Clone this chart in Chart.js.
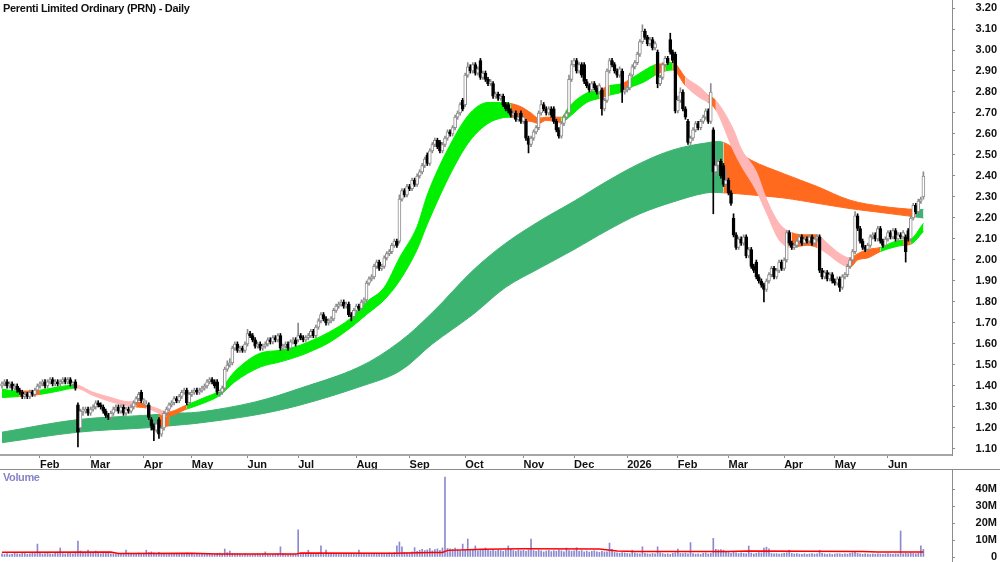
<!DOCTYPE html>
<html lang="en">
<head>
<meta charset="utf-8">
<title>Perenti Limited Ordinary (PRN) - Daily</title>
<script src="https://cdn.jsdelivr.net/npm/chart.js@4.4.1/dist/chart.umd.min.js"></script>
<style>
  html, body { margin: 0; padding: 0; background: #fff; }
  body { position: relative; width: 1000px; height: 562px; overflow: hidden;
         font-family: Arial, 'Liberation Sans', sans-serif; }
  #priceChart { position: absolute; left: 0; top: 0; }
  #volumeChart { position: absolute; left: 0; top: 470px; }
  .divider { position: absolute; left: 0; top: 469px; width: 1000px; height: 1px; background: #8c8c8c; }
  .title { position: absolute; left: 3px; top: 2px; font-size: 11px; font-weight: bold;
           letter-spacing: -0.3px; color: #111; }
  .vol-label { position: absolute; left: 3px; top: 471px; font-size: 11px; font-weight: bold;
               letter-spacing: -0.4px; color: #8585c6; }
</style>
</head>
<body>
<canvas id="priceChart" width="1000" height="469"></canvas>
<div class="divider"></div>
<canvas id="volumeChart" width="1000" height="92"></canvas>
<div class="title">Perenti Limited Ordinary (PRN) - Daily</div>
<div class="vol-label">Volume</div>

<script>
// ============================================================
// PRN daily chart — candles, MMA ribbons, volume
// ============================================================

// ── Calendar ──────────────────────────────────────────────
const FIRST_DAY = '2025-01-10';
const LAST_DAY  = '2026-06-22';
const MARKET_HOLIDAYS = [
  '2025-01-27', '2025-04-18', '2025-04-21', '2025-04-25', '2025-06-09',
  '2025-12-25', '2025-12-26', '2026-01-01', '2026-01-26', '2026-04-03',
  '2026-04-06', '2026-06-08'
];
const MONTH_NAMES = ['Jan', 'Feb', 'Mar', 'Apr', 'May', 'Jun',
                     'Jul', 'Aug', 'Sep', 'Oct', 'Nov', 'Dec'];

// ── Daily prices, in cents (one entry per trading day) ────
const OPEN = [
  140,141,142,140,141,139,140,138,137,135,136,135,137,136,138,
  140,141,142,140,142,143,141,142,141,142,143,142,143,141,142,
  131,120,128,128,129,127,129,130,132,131,130,128,126,125,127,
  129,130,128,130,127,129,128,130,132,134,137,133,131,131,124,
  121,119,124,117,120,127,129,131,132,134,133,135,137,138,132,
  136,137,138,137,138,139,140,142,143,142,142,137,137,139,148,
  150,151,158,160,157,158,157,160,165,164,162,159,160,158,159,
  160,162,161,163,162,164,158,159,160,158,161,162,162,164,163,
  162,163,164,166,164,168,171,174,172,170,171,172,176,178,179,
  180,178,179,174,173,176,178,177,180,181,189,191,192,197,199,
  196,197,201,203,204,207,209,209,229,233,231,235,234,238,236,
  240,242,245,250,246,252,255,257,256,252,255,258,261,260,263,
  268,270,276,274,288,292,290,293,289,295,287,289,286,284,284,
  278,279,277,278,274,274,271,269,270,267,270,266,266,258,255,
  258,261,263,270,274,272,270,272,272,266,262,259,265,268,270,
  286,293,295,290,293,293,285,283,281,284,282,280,281,272,276,
  290,295,293,290,288,290,280,281,282,288,292,294,298,304,309,
  306,303,305,301,299,284,287,293,296,305,299,298,271,276,280,
  272,266,256,258,262,265,263,266,268,271,266,262,242,245,247,
  245,236,238,232,220,212,206,210,208,211,202,205,197,199,192,
  190,188,186,190,193,196,192,195,199,196,200,213,208,206,207,
  209,211,208,210,209,211,208,210,211,195,192,194,191,193,190,
  189,191,187,192,193,197,200,204,221,215,209,206,205,207,211,
  212,210,215,209,207,210,213,211,214,210,212,211,211,214,210,
  220,226,223,228,230
];
const HIGH = [
  142,143,143,142,142,141,141,139,138,137,137,138,138,139,141,
  142,143,143,143,144,144,143,143,143,144,144,144,144,142,143,
  132,129,130,130,130,130,131,133,133,132,131,129,127,128,130,
  131,131,131,131,130,130,131,133,135,137,138,134,133,132,125,
  122,123,125,121,128,130,132,133,135,135,136,138,139,139,137,
  138,139,139,139,140,141,143,144,144,143,143,138,140,149,152,
  153,159,161,161,159,159,161,167,166,165,163,161,161,160,161,
  163,163,164,164,165,165,160,161,161,162,163,163,170,165,164,
  164,165,167,167,169,172,175,175,173,172,173,177,179,180,181,
  181,180,180,175,177,179,179,181,182,190,192,193,198,200,200,
  198,202,204,205,208,210,210,231,234,234,236,236,239,239,241,
  243,246,249,251,253,256,258,258,257,256,259,262,262,264,269,
  271,275,277,289,294,293,294,294,292,296,290,290,287,286,285,
  280,280,279,279,275,275,272,271,271,269,271,269,267,259,259,
  262,264,271,276,275,273,273,273,273,267,263,266,269,271,288,
  295,296,296,294,294,294,286,284,285,285,283,284,282,277,291,
  296,296,294,291,292,291,282,283,289,293,295,299,305,312,310,
  307,306,306,304,300,288,294,297,297,308,300,299,278,282,281,
  273,267,259,263,266,266,267,269,272,272,284,263,247,248,248,
  246,243,239,233,222,213,211,211,212,212,206,206,198,200,193,
  191,189,191,194,197,197,196,200,200,201,214,214,209,208,210,
  212,212,211,211,212,212,211,212,212,196,195,195,194,194,191,
  192,192,193,194,198,201,205,223,222,216,210,207,208,212,213,
  213,216,216,210,211,214,214,215,215,213,213,214,212,215,221,
  227,227,229,230,242
];
const LOW = [
  139,140,139,139,138,138,137,136,134,134,134,134,135,135,137,
  139,140,139,139,141,140,140,140,140,141,141,141,140,140,138,
  111,119,126,127,126,126,128,129,130,129,127,125,124,124,126,
  128,127,127,126,126,127,127,129,131,133,132,131,130,124,119,
  114,118,115,116,119,126,128,130,131,132,132,134,136,131,131,
  135,136,136,136,137,138,139,141,141,139,136,135,136,138,147,
  149,150,157,156,156,156,156,159,163,161,158,158,157,157,158,
  159,160,160,161,161,157,157,158,157,157,160,159,161,162,161,
  161,162,163,163,163,167,170,171,169,169,170,171,175,177,178,
  177,177,173,171,172,175,176,176,179,180,188,190,191,196,195,
  195,196,200,202,203,206,206,208,228,230,230,233,233,235,235,
  239,241,244,245,245,251,254,253,251,251,254,257,259,259,262,
  267,269,271,273,287,289,289,288,288,286,286,285,283,283,277,
  277,276,276,273,271,270,268,268,266,266,265,265,257,251,254,
  257,260,262,269,271,269,269,268,265,261,258,258,264,267,269,
  285,292,289,289,287,284,282,280,280,281,279,279,269,271,275,
  289,292,289,287,287,275,279,280,281,287,291,293,297,303,305,
  302,302,300,300,282,283,286,292,293,298,294,270,270,275,271,
  267,255,255,257,261,262,262,265,267,265,265,222,240,243,239,
  235,235,231,226,211,205,205,207,207,201,201,196,194,191,189,
  187,180,185,189,192,191,191,194,195,195,199,207,205,205,206,
  208,207,207,208,208,207,207,209,194,191,191,190,190,189,188,
  188,185,186,191,192,196,199,203,214,208,205,204,204,206,210,
  209,209,208,206,206,209,210,210,209,209,210,210,199,209,209,
  219,222,222,227,229
];
const CLOSE = [
  141,142,140,141,139,140,138,137,135,136,135,137,136,138,140,
  141,142,140,142,143,141,142,141,142,143,142,143,141,141,139,
  118,128,128,129,127,129,130,132,131,130,128,126,125,127,129,
  130,128,130,127,129,128,130,132,134,136,133,133,131,125,121,
  119,122,117,120,127,129,131,132,134,133,135,137,138,132,136,
  137,138,137,138,139,140,142,143,142,140,137,137,139,148,150,
  151,158,160,157,158,157,160,165,164,162,159,160,158,159,160,
  162,161,163,162,164,158,159,160,158,161,162,160,164,163,162,
  163,164,166,164,168,171,174,172,170,171,172,176,178,179,180,
  178,179,174,173,176,178,177,180,181,189,191,192,197,199,196,
  197,201,203,204,207,209,207,229,233,231,235,234,238,236,240,
  242,245,248,246,252,255,257,254,252,255,258,261,260,263,268,
  270,274,272,288,292,290,293,289,291,287,289,286,284,285,278,
  279,277,278,274,272,271,269,270,267,268,266,268,258,255,258,
  261,263,270,274,272,270,272,269,266,262,259,265,268,270,286,
  293,295,290,293,288,285,283,281,284,282,280,283,272,276,290,
  295,293,290,288,291,280,281,282,288,292,294,298,304,309,306,
  303,305,301,303,284,287,293,296,294,299,295,271,276,280,272,
  268,256,258,262,265,263,266,268,271,266,280,242,245,247,240,
  236,238,232,227,212,206,210,208,211,202,205,197,195,192,190,
  188,186,190,193,196,192,195,199,196,200,213,208,206,207,209,
  211,208,210,209,211,208,210,211,195,192,194,191,193,190,189,
  191,187,192,193,197,200,204,221,215,209,206,205,207,211,212,
  210,215,209,207,210,213,211,214,210,212,211,213,204,210,220,
  226,223,228,229,240
];

// ── Daily volume, millions of shares ──────────────────────
const VOLUME = [
  1.8,1.5,2.0,1.4,1.6,2.2,1.9,1.7,2.5,2.1,1.6,1.9,2.3,2.0,7.6,
  2.2,1.8,2.0,2.6,1.9,1.7,2.4,2.1,5.3,2.0,1.8,2.5,2.2,1.9,2.8,
  9.4,3.5,2.8,2.4,4.0,2.6,2.2,3.5,2.5,1.9,2.1,2.7,2.3,1.8,2.0,
  1.7,2.2,1.9,2.0,4.1,2.3,1.8,1.6,2.1,2.4,1.9,2.2,4.0,2.6,3.0,
  2.5,2.1,2.8,1.9,1.7,1.5,2.0,1.8,1.6,2.2,1.9,1.7,2.1,2.4,1.8,
  1.6,1.4,1.9,1.7,1.5,1.8,2.0,1.6,1.4,1.7,2.1,2.3,1.9,4.7,2.6,
  3.5,2.2,1.8,2.0,1.7,1.5,1.9,1.6,1.4,1.8,1.7,2.0,1.5,1.9,3.0,
  1.7,1.4,1.6,1.8,2.0,6.0,2.2,1.9,1.6,1.7,1.5,1.8,16.0,2.1,1.7,
  1.9,4.0,2.2,1.8,1.7,2.4,6.5,2.1,4.0,1.8,1.6,2.0,1.9,1.7,1.5,
  1.8,1.6,2.0,1.7,1.5,1.9,4.0,2.1,1.8,1.6,2.2,1.9,1.7,2.0,1.8,
  2.1,1.9,1.7,2.4,2.0,2.6,6.5,8.8,6.0,2.8,2.4,2.2,3.0,5.5,3.4,
  4.0,4.5,3.8,4.2,5.0,3.6,4.4,4.8,3.9,5.3,47.0,5.0,4.8,4.5,5.2,
  4.3,3.8,7.6,4.1,10.6,4.5,4.0,6.5,3.7,4.2,3.9,5.3,4.1,3.6,4.4,
  3.5,4.2,3.8,3.3,4.0,6.5,4.5,3.8,3.4,4.1,3.6,3.9,3.3,4.2,10.6,
  3.8,3.3,4.1,3.6,3.0,3.5,3.9,3.2,3.7,3.4,4.0,3.6,3.1,5.3,3.8,
  3.4,3.6,5.5,3.3,3.8,3.0,3.5,2.9,3.3,3.7,3.1,2.8,3.4,3.0,3.1,
  8.2,4.5,2.7,2.5,2.2,2.6,2.4,2.1,1.9,4.0,2.3,2.0,1.8,6.0,2.2,
  1.9,1.7,2.1,1.8,6.0,2.4,2.0,1.7,1.9,1.6,2.2,2.5,4.7,2.1,2.0,
  2.3,1.8,8.5,2.0,1.7,1.9,1.6,2.2,2.4,1.8,2.1,11.0,4.5,4.2,4.4,
  4.0,3.0,2.6,2.2,2.8,2.5,2.0,2.4,2.1,1.9,6.5,2.3,1.8,2.2,2.6,
  2.4,5.2,5.8,4.8,2.1,1.8,2.0,1.7,1.9,2.2,2.5,4.0,2.1,1.8,2.0,
  1.7,1.6,1.9,1.5,1.8,2.0,1.7,1.9,4.0,2.1,1.8,1.6,1.9,1.5,1.7,
  2.0,1.8,1.6,1.9,1.7,2.2,2.5,3.0,2.1,1.8,1.6,1.9,1.7,1.5,1.8,
  1.6,1.9,1.7,1.5,1.8,2.0,1.7,1.6,1.9,1.7,15.3,1.8,2.2,2.0,2.4,
  2.1,1.9,2.3,6.5,4.5
];

// ── Volume average (trading-day number, millions) ─────────
const VOLMA_DAY = [0, 43, 46, 75, 85, 116, 118, 155, 170, 174, 176,
                   190, 206, 236, 243, 250, 287, 295, 340, 346, 364];
const VOLMA_M   = [2.8, 2.9, 2.1, 2.2, 1.7, 1.7, 2.3, 2.2, 2.7, 2.7, 3.9,
                   4.5, 4.8, 4.7, 3.6, 3.2, 3.2, 3.5, 3.3, 3.0, 3.0];

// ── Short-term ribbon (trading-day number, band edges, trend) ─
const SHORT_DAY = [0,7,15,22,29,36,43,50,53,57,62,65,73,80,86,92,102,110,118,123,
  129,138,144,151,157,164,168,178,185,192,197,201,205,209,212,215,221,224,231,236,
  240,245,248,254,258,262,265,270,276,279,282,289,292,298,302,307,312,318,322,326,
  331,335,338,342,347,352,356,359,364];
const SHORT_HI = [1.385,1.375,1.38,1.395,1.405,1.37,1.345,1.325,1.325,1.31,1.29,1.275,
  1.31,1.345,1.38,1.47,1.556,1.57,1.595,1.62,1.655,1.725,1.80,1.87,2.01,2.16,2.31,
  2.57,2.70,2.75,2.75,2.745,2.73,2.70,2.675,2.68,2.68,2.73,2.795,2.81,2.83,2.84,
  2.86,2.905,2.93,2.935,2.94,2.87,2.82,2.785,2.76,2.62,2.53,2.42,2.29,2.175,2.13,
  2.12,2.12,2.08,2.03,2.01,2.03,2.05,2.06,2.085,2.095,2.10,2.175];
const SHORT_LO = [1.345,1.35,1.36,1.375,1.39,1.355,1.325,1.305,1.30,1.295,1.27,1.255,
  1.29,1.32,1.355,1.42,1.49,1.515,1.545,1.57,1.605,1.68,1.74,1.81,1.90,2.05,2.17,
  2.43,2.57,2.65,2.675,2.68,2.665,2.66,2.65,2.665,2.655,2.68,2.75,2.77,2.785,2.80,
  2.82,2.85,2.88,2.90,2.905,2.83,2.77,2.75,2.715,2.52,2.45,2.33,2.225,2.095,2.06,
  2.07,2.06,2.03,1.985,1.965,2.00,2.01,2.04,2.06,2.07,2.075,2.135];
const SHORT_TREND = ['bull','mixed','bull','bull','bear','bear','bear','bear','mixed','bear',
  'bear','mixed','bull','bull','bull','bull','bull','bull','bull','bull',
  'bull','bull','bull','bull','bull','bull','bull','bull','bull','bull',
  'bull','mixed','mixed','mixed','mixed','mixed','bull','bull','bull','mixed',
  'bull','mixed','bull','bull','mixed','bull','mixed','bear','bear','mixed',
  'bear','bear','bear','bear','bear','bear','mixed','mixed','bear','bear',
  'bear','mixed','mixed','mixed','bull','bull','mixed','bull','bull'];

// ── Long-term ribbon ──────────────────────────────────────
const LONG_DAY = [0,30,56,62,66,78,100,118,141,157,170,186,199,213,226,239,252,265,
  278,285,296,309,322,335,348,361,364];
const LONG_HI = [1.18,1.24,1.26,1.265,1.27,1.276,1.324,1.39,1.49,1.61,1.75,1.95,
  2.08,2.19,2.28,2.375,2.46,2.524,2.557,2.56,2.475,2.41,2.35,2.285,2.255,2.24,2.24];
const LONG_LO = [1.13,1.18,1.20,1.205,1.21,1.224,1.262,1.31,1.395,1.47,1.60,1.74,
  1.87,1.965,2.05,2.14,2.22,2.276,2.319,2.32,2.31,2.295,2.27,2.245,2.225,2.205,2.20];
const LONG_TREND = ['bull','bull','bull','mixed','bull','bull','bull','bull','bull','bull',
  'bull','bull','bull','bull','bull','bull','bull','bull','bull','mixed',
  'mixed','mixed','mixed','mixed','mixed','bull','bull'];

// ── Axis ticks ────────────────────────────────────────────
const PRICE_TICKS = [1.10,1.20,1.30,1.40,1.50,1.60,1.70,1.80,1.90,2.00,2.10,
                     2.20,2.30,2.40,2.50,2.60,2.70,2.80,2.90,3.00,3.10,3.20];
const VOLUME_TICKS = [0, 10, 20, 30, 40];

// ── Look ──────────────────────────────────────────────────
const FONT = "Arial, 'Liberation Sans', sans-serif";
const SHORT_COLOR = { bull: '#00f000', mixed: '#ff6a1f', bear: '#ffb6b6' };
const LONG_COLOR  = { bull: '#3cb371', mixed: '#ff6a1f' };
const UP_EDGE   = '#8c8c8c';
const AXIS_GREY = '#8c8c8c';
const X_MIN = -0.79, X_MAX = 375.3;          // day slots across the plot width
const PRICE_MIN = 1.0714, PRICE_MAX = 3.2381;
const VOL_MIN = -2.94, VOL_MAX = 51.18;

Chart.defaults.font.family = FONT;

// ── Trading-day calendar + month ticks ────────────────────
function buildTradingDays() {
  const days = [];
  const d = new Date(FIRST_DAY + 'T00:00:00Z');
  const end = new Date(LAST_DAY + 'T00:00:00Z');
  while (d <= end) {
    const dow = d.getUTCDay();
    const iso = d.toISOString().slice(0, 10);
    if (dow !== 0 && dow !== 6 && !MARKET_HOLIDAYS.includes(iso)) days.push(iso);
    d.setUTCDate(d.getUTCDate() + 1);
  }
  return days;
}

const DAYS = buildTradingDays();
const monthTicks = [];
DAYS.forEach((iso, i) => {
  if (i === 0) return;
  if (iso.slice(5, 7) !== DAYS[i - 1].slice(5, 7)) {
    const m = Number(iso.slice(5, 7)) - 1;
    monthTicks.push({ i, label: m === 0 ? iso.slice(0, 4) : MONTH_NAMES[m] });
  }
});
const monthLabel = (v) => {
  const t = monthTicks.find(mt => mt.i === v);
  return t ? t.label : '';
};

// Keep the plot flush with the canvas: the axes get fixed sizes and
// reserve no extra edge padding for their labels.
const fixAxis = (size) => (s) => {
  if (s.isHorizontal()) s.height = size; else s.width = size;
  s.paddingTop = 0; s.paddingBottom = 0; s.paddingLeft = 0; s.paddingRight = 0;
};

// ── Series for the library ────────────────────────────────
const cents = (v) => v / 100;
const isUp = CLOSE.map((c, i) => c >= OPEN[i]);

const wickData = CLOSE.map((_, i) => ({ x: i, y: [cents(LOW[i]), cents(HIGH[i])] }));
const bodyData = CLOSE.map((c, i) => ({ x: i, y: [cents(OPEN[i]), cents(c)] }));

const pts = (days, vals) => days.map((d, k) => ({ x: d, y: vals[k] }));

// Two edge lines with the gap between them filled; colour follows the trend.
function ribbon(days, hi, lo, trend, palette, order, curve) {
  const pick = (c) => palette[trend[c.p0DataIndex]];
  const common = Object.assign({
    type: 'line', order, pointRadius: 0, borderWidth: 1,
    borderColor: palette.bull, backgroundColor: palette.bull,
    segment: { borderColor: pick, backgroundColor: pick }
  }, curve);
  return [
    Object.assign({}, common, { data: pts(days, hi), fill: false }),
    Object.assign({}, common, { data: pts(days, lo), fill: '-1' })
  ];
}

// ── Price chart ───────────────────────────────────────────
new Chart(document.getElementById('priceChart'), {
  type: 'bar',
  data: {
    datasets: [
      ...ribbon(LONG_DAY, LONG_HI, LONG_LO, LONG_TREND, LONG_COLOR, 10, { tension: 0.35 }),
      ...ribbon(SHORT_DAY, SHORT_HI, SHORT_LO, SHORT_TREND, SHORT_COLOR, 9,
                { cubicInterpolationMode: 'monotone' }),
      {
        type: 'bar', order: 2, grouped: false, data: wickData,
        barThickness: 1,
        backgroundColor: isUp.map(u => u ? UP_EDGE : '#000')
      },
      {
        type: 'bar', order: 1, grouped: false, data: bodyData,
        barThickness: 3, minBarLength: 1, borderSkipped: false, borderWidth: 1,
        backgroundColor: isUp.map(u => u ? '#fff' : '#000'),
        borderColor: isUp.map(u => u ? UP_EDGE : '#000')
      }
    ]
  },
  options: {
    responsive: false,
    animation: false,
    events: [],
    layout: { autoPadding: false, padding: { left: 0, right: 3, top: 0, bottom: 0 } },
    plugins: { legend: { display: false }, tooltip: { enabled: false } },
    scales: {
      x: {
        type: 'linear', min: X_MIN, max: X_MAX, offset: false,
        afterBuildTicks: (s) => { s.ticks = monthTicks.map(t => ({ value: t.i })); },
        afterFit: fixAxis(14),
        ticks: {
          autoSkip: false, maxRotation: 0, align: 'start', padding: 0,
          color: '#111', font: { size: 11, weight: 'bold' },
          callback: (v) => monthLabel(v)
        },
        grid: { offset: false, drawOnChartArea: false, drawTicks: true, tickLength: 3, color: AXIS_GREY },
        border: { display: true, color: '#a6a6a6', width: 2 }
      },
      y: {
        type: 'linear', position: 'right', min: PRICE_MIN, max: PRICE_MAX,
        afterBuildTicks: (s) => { s.ticks = PRICE_TICKS.map(v => ({ value: v })); },
        afterFit: fixAxis(45),
        ticks: {
          crossAlign: 'far', padding: 20, color: '#111',
          font: { size: 11, weight: 'bold' },
          callback: (v) => Number(v).toFixed(2)
        },
        grid: { drawOnChartArea: false, drawTicks: true, tickLength: 3, color: AXIS_GREY },
        border: { display: true, color: AXIS_GREY, width: 1 }
      }
    }
  }
});

// ── Volume chart ──────────────────────────────────────────
new Chart(document.getElementById('volumeChart'), {
  type: 'bar',
  data: {
    datasets: [
      {
        type: 'line', order: 1, data: pts(VOLMA_DAY, VOLMA_M),
        borderColor: '#ff0000', borderWidth: 1.5, pointRadius: 0, tension: 0, fill: false
      },
      {
        type: 'bar', order: 2, grouped: false,
        data: VOLUME.map((v, i) => ({ x: i, y: v })),
        barThickness: 1, backgroundColor: '#8a8ad0'
      }
    ]
  },
  options: {
    responsive: false,
    animation: false,
    events: [],
    layout: { autoPadding: false, padding: { left: 0, right: 3, top: 0, bottom: 0 } },
    plugins: { legend: { display: false }, tooltip: { enabled: false } },
    scales: {
      x: { type: 'linear', min: X_MIN, max: X_MAX, offset: false, display: false },
      y: {
        type: 'linear', position: 'right', min: VOL_MIN, max: VOL_MAX,
        afterBuildTicks: (s) => { s.ticks = VOLUME_TICKS.map(v => ({ value: v })); },
        afterFit: fixAxis(45),
        ticks: {
          crossAlign: 'far', padding: 16, color: '#111',
          font: { size: 11, weight: 'bold' },
          callback: (v) => (v === 0 ? '0' : v + 'M')
        },
        grid: { drawOnChartArea: false, drawTicks: true, tickLength: 3, color: AXIS_GREY },
        border: { display: true, color: AXIS_GREY, width: 1 }
      }
    }
  }
});
</script>
</body>
</html>
